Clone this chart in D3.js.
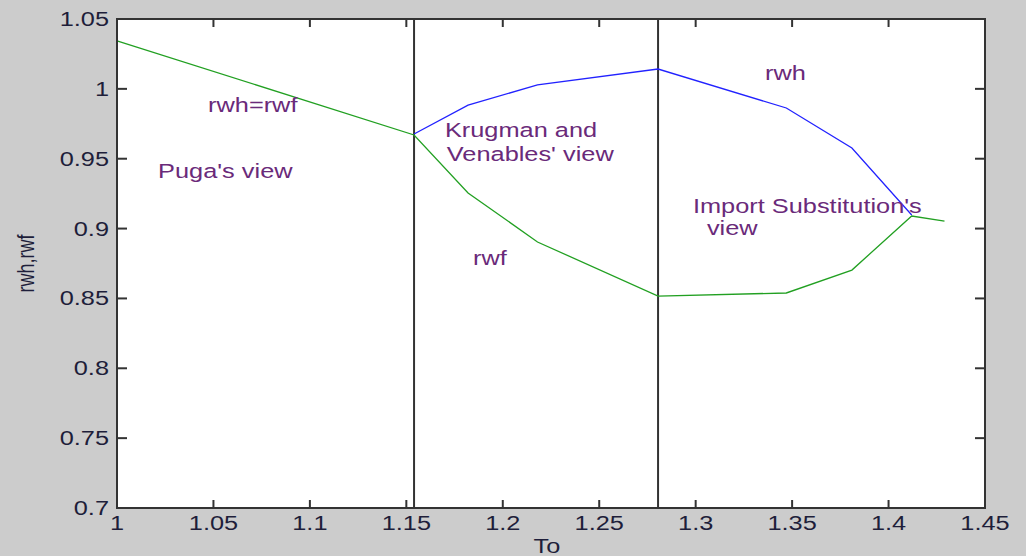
<!DOCTYPE html>
<html>
<head>
<meta charset="utf-8">
<script src="https://cdn.jsdelivr.net/npm/d3@7"></script>
<style>
  html, body { margin: 0; padding: 0; background: #cccccc; }
  svg { display: block; }
  text { font-family: "Liberation Sans", Arial, sans-serif; }
</style>
</head>
<body>
<script>
// values
const toValues = [1.0, 1.154, 1.182, 1.218, 1.2805, 1.347, 1.381, 1.412, 1.429]
const rwf = [1.0343, 0.967, 0.9255, 0.8904, 0.8517, 0.8539, 0.8703, 0.909, 0.9054]
const rwhTo = [1.154, 1.182, 1.218, 1.2805, 1.347, 1.381, 1.412]
const rwh = [0.9677, 0.9884, 1.0028, 1.0142, 0.9863, 0.9577, 0.9097]
const regimeBounds = [1.154, 1.2805]

const xTicks = [1, 1.05, 1.1, 1.15, 1.2, 1.25, 1.3, 1.35, 1.4, 1.45]
const yTicks = [0.7, 0.75, 0.8, 0.85, 0.9, 0.95, 1, 1.05]

const notes = ["rwh=rwf", "Puga's view", "Krugman and", "Venables' view", "rwf", "rwh", "Import Substitution's", " view"]
const noteTo = [1.0472, 1.0213, 1.170, 1.171, 1.1846, 1.336, 1.2986, 1.3022]
const noteR = [0.9834, 0.9362, 0.9655, 0.9484, 0.8739, 1.0063, 0.9111, 0.8954]

const W = 1026, H = 556
const pLeft = 117, pRight = 985, pTop = 19, pBottom = 508
const stretch = 1.3 // the picture's text is wider than it is tall

const svg = d3.select('body').append('svg')
  .attr('width', W).attr('height', H)

svg.append('rect')
  .attr('width', W).attr('height', H)
  .attr('fill', '#cccccc')

let x = d3.scaleLinear().domain([1, 1.45]).range([pLeft, pRight])
let y = d3.scaleLinear().domain([0.7, 1.05]).range([pBottom, pTop])

svg.append('rect')
  .attr('x', pLeft).attr('y', pTop)
  .attr('width', pRight - pLeft).attr('height', pBottom - pTop)
  .attr('fill', '#fff')

let line = (xs, ys) => d3.line()
  .x((d, i) => x(xs[i]))
  .y(d => y(d))(ys)

// regime boundaries
svg.selectAll('.bound')
  .data(regimeBounds)
  .enter().append('line')
  .attr('x1', d => x(d)).attr('x2', d => x(d))
  .attr('y1', pTop).attr('y2', pBottom)
  .attr('stroke', '#333').attr('stroke-width', 2)

svg.append('path')
  .attr('d', line(toValues, rwf))
  .attr('fill', 'none')
  .attr('stroke', '#22a022')
  .attr('stroke-width', 1.3)

svg.append('path')
  .attr('d', line(rwhTo, rwh))
  .attr('fill', 'none')
  .attr('stroke', '#2222ff')
  .attr('stroke-width', 1.3)

// box with inward ticks on all sides
let ink = '#333'
svg.append('rect')
  .attr('x', pLeft).attr('y', pTop)
  .attr('width', pRight - pLeft).attr('height', pBottom - pTop)
  .attr('fill', 'none').attr('stroke', ink).attr('stroke-width', 2)

let tickLenX = 8, tickLenY = 10
xTicks.forEach(t => {
  svg.append('line').attr('x1', x(t)).attr('x2', x(t))
    .attr('y1', pBottom).attr('y2', pBottom - tickLenX)
    .attr('stroke', ink).attr('stroke-width', 2)
  svg.append('line').attr('x1', x(t)).attr('x2', x(t))
    .attr('y1', pTop).attr('y2', pTop + tickLenX)
    .attr('stroke', ink).attr('stroke-width', 2)
})
yTicks.forEach(t => {
  svg.append('line').attr('x1', pLeft).attr('x2', pLeft + tickLenY)
    .attr('y1', y(t)).attr('y2', y(t))
    .attr('stroke', ink).attr('stroke-width', 2)
  svg.append('line').attr('x1', pRight).attr('x2', pRight - tickLenY)
    .attr('y1', y(t)).attr('y2', y(t))
    .attr('stroke', ink).attr('stroke-width', 2)
})

let labelInk = '#1e1e3a'
let stretchedText = (txt, px, py, anchor, size, color, rot) => {
  svg.append('text')
    .attr('transform', `translate(${px},${py}) scale(${stretch},1)` + (rot ? ` rotate(${rot})` : ''))
    .attr('text-anchor', anchor)
    .attr('font-size', size)
    .attr('fill', color)
    .style('white-space', 'pre')
    .text(txt)
}

let fmt = t => String(+t.toFixed(2))
xTicks.forEach(t => stretchedText(fmt(t), x(t), 530, 'middle', 19.5, labelInk))
yTicks.forEach(t => stretchedText(fmt(t), 109, y(t) + 7, 'end', 19.5, labelInk))

stretchedText('To', (pLeft + pRight) / 2 - 4, 553, 'middle', 19.5, labelInk)
stretchedText('rwh,rwf', 34, (pTop + pBottom) / 2, 'middle', 18, labelInk, -90)

let noteInk = '#6a2a7a'
notes.forEach((n, i) => {
  stretchedText(n, x(noteTo[i]), y(noteR[i]), 'start', 19.5, noteInk)
})
</script>
</body>
</html>
